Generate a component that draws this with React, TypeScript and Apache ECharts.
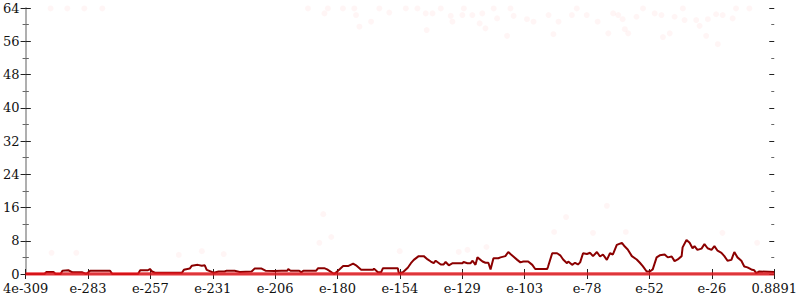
import React, { useEffect, useRef } from "react";
import * as echarts from "echarts";

// x axis: log10 of the value, from 4e-309 to 0.8891
const LOG_MIN = Math.log10(4e-309);
const LOG_MAX = Math.log10(0.8891);
const X_TICK_LABELS = ["4e-309", "e-283", "e-257", "e-231", "e-206", "e-180", "e-154", "e-129", "e-103", "e-78", "e-52", "e-26", "0.8891"];
const Y_MAX = 64;
const Y_STEP = 8;

// main (dark red) series: log10(x) and count
const LOG_X = [
  -308.4, -300.6, -299.8, -296.9, -296.1, -294.0, -293.2, -290.8, -289.1, -285.0, -283.4, -281.8, -273.6, -272.7,
  -262.1, -261.2, -258.0, -257.2, -256.3, -255.1, -244.0, -243.2, -240.8, -239.9, -237.5, -235.8, -234.6, -233.8,
  -230.9, -228.9, -226.4, -225.6, -222.3, -220.2, -215.3, -214.1, -211.2, -209.6, -205.9, -203.0, -200.6, -200.2,
  -199.3, -195.7, -194.8, -194.0, -188.7, -187.9, -185.4, -184.2, -181.3, -179.7, -177.6, -175.6, -173.5, -172.3,
  -170.2, -165.3, -164.9, -163.3, -162.0, -161.2, -155.1, -154.7, -153.0, -151.0, -149.7, -148.5, -146.5, -144.4,
  -142.8, -141.5, -140.3, -139.5, -137.4, -136.2, -135.4, -134.1, -132.5, -128.4, -128.0, -126.4, -125.1, -124.3,
  -123.1, -122.3, -120.2, -119.0, -117.8, -116.9, -115.7, -113.7, -112.8, -110.8, -109.6, -108.7, -107.5, -105.9,
  -104.6, -103.4, -101.4, -99.7, -98.5, -96.4, -93.6, -93.2, -91.5, -89.5, -88.2, -87.0, -85.4, -84.9, -83.3,
  -82.1, -80.9, -80.0, -78.8, -77.2, -75.9, -74.7, -73.1, -71.8, -70.6, -69.0, -67.7, -66.5, -64.9, -62.8, -61.6,
  -60.4, -58.7, -56.7, -55.4, -54.2, -52.6, -51.3, -50.1, -48.5, -47.2, -45.2, -43.9, -42.3, -41.1, -39.8, -38.2,
  -37.8, -36.2, -34.9, -33.7, -32.9, -31.7, -30.0, -28.8, -27.5, -25.9, -24.7, -23.4, -21.8, -20.6, -19.3, -17.7,
  -16.5, -15.2, -13.6, -12.4, -11.1, -9.5, -8.3, -7.5, -6.2, -0.05,
];
const COUNTS = [
  0, 0, 0.5, 0.5, 0, 0, 0.8, 0.9, 0.4, 0.4, 0, 0.8, 0.8, 0,
  0, 0.9, 0.9, 1.2, 0.6, 0.3, 0.3, 1.0, 1.3, 2.0, 2.2, 2.0, 2.1, 1.0,
  0.3, 0.6, 0.6, 0.8, 0.8, 0.5, 0.6, 1.3, 1.3, 0.8, 0.7, 0.8, 0.8, 1.2,
  0.8, 0.8, 0.4, 0.8, 0.8, 1.4, 1.4, 1.1, 0, 0.8, 1.9, 1.9, 2.5, 2.1,
  1.0, 1.0, 1.3, 0.4, 0.4, 1.4, 1.4, 0.2, 0.4, 1.5, 2.6, 3.4, 4.3, 4.3,
  3.5, 3.0, 2.6, 3.2, 2.3, 2.3, 2.9, 2.1, 2.6, 2.6, 2.9, 2.6, 2.6, 3.2,
  2.2, 4.0, 3.0, 2.7, 2.7, 1.1, 3.8, 3.8, 4.0, 4.3, 5.3, 4.8, 4.2, 3.4,
  2.8, 3.0, 3.0, 2.2, 1.2, 1.2, 1.2, 1.8, 5.0, 5.0, 4.5, 3.5, 2.6, 3.0, 2.2,
  2.7, 2.3, 2.8, 5.0, 4.8, 5.1, 4.3, 5.3, 4.2, 4.7, 3.4, 5.0, 4.7, 7.0, 7.5, 6.6,
  5.9, 4.3, 3.5, 2.7, 1.9, 0.6, 0.6, 1.1, 4.0, 4.5, 4.7, 4.0, 4.2, 3.1, 3.5, 4.3,
  6.4, 8.2, 7.5, 6.2, 6.7, 5.8, 6.1, 7.2, 6.2, 5.8, 6.7, 5.6, 5.1, 4.3, 3.2, 3.4,
  5.3, 4.0, 3.2, 1.8, 1.6, 1.1, 0.9, 0.2, 0.6, 0.5,
];

// faint scattered points: log10(x) and value
const DOT_LOG_X = [
  -298.1, -291.2, -284.2, -276.8, -192.1, -185.3, -183.9, -177.7, -173.0, -172.3, -170.9, -166.1, -162.7, -158.6,
  -151.8, -147.0, -143.6, -143.2, -140.8, -137.4, -133.3, -132.6, -128.5, -127.9, -124.4, -121.4, -120.3, -119.0,
  -115.6, -114.2, -110.1, -108.7, -107.4, -101.9, -99.2, -93.0, -91.0, -88.9, -83.4, -81.4, -77.3, -72.8, -68.4,
  -66.4, -64.3, -62.5, -61.6, -60.2, -56.8, -54.1, -49.3, -46.5, -45.9, -43.1, -41.1, -37.7, -37.0, -32.2, -30.8,
  -28.1, -27.4, -24.0, -23.3, -21.3, -17.2, -15.8, -10.3,
  -297.7, -287.5, -245.3, -235.8, -226.8, -185.8, -187.4, -182.5, -154.3, -130.0, -126.4, -118.6, -69.0, -85.8,
  -90.7, -74.7, -61.2, -21.4, -7.1,
];
const DOT_VALUES = [
  63.9, 63.9, 63.9, 63.9, 63.9, 62.7, 63.9, 63.9, 63.9, 62.3, 59.5, 60.7, 63.9, 62.9,
  63.9, 63.9, 62.7, 58.7, 62.7, 63.9, 62.1, 60.7, 62.3, 63.9, 62.3, 60.3, 62.7, 59.1,
  63.9, 61.5, 57.3, 63.9, 62.1, 61.3, 60.7, 62.3, 57.7, 60.7, 62.3, 63.9, 62.3, 60.7, 57.9,
  62.7, 62.3, 61.3, 58.9, 57.9, 61.9, 63.9, 62.7, 62.3, 57.0, 57.9, 61.9, 63.9, 61.1, 61.1, 59.7,
  57.3, 61.3, 62.5, 55.3, 62.3, 61.5, 63.9, 63.9,
  5.1, 5.1, 4.6, 5.5, 4.8, 14.4, 7.5, 8.9, 5.5, 5.3, 5.8, 6.5, 16.4, 13.7,
  10.1, 9.9, 10.1, 9.9, 7.5,
];

const N_X_TICKS = X_TICK_LABELS.length - 1;
const toU = (lx: number) => ((lx - LOG_MIN) / (LOG_MAX - LOG_MIN)) * N_X_TICKS;
const SERIF = "DejaVu Serif";

export default function App() {
  const ref = useRef<HTMLDivElement>(null);
  useEffect(() => {
    if (!ref.current) return;
    const chart = echarts.init(ref.current, undefined, { renderer: "svg" });
    const grey = "#aaaaaa";
    const label = (extra: object) => ({
      fontFamily: SERIF,
      fontSize: 13,
      color: "#111",
      ...extra,
    });
    const yBase = (pos: "left" | "right", inside: boolean, labels: boolean) => ({
      type: "value" as const,
      position: pos,
      min: 0,
      max: Y_MAX,
      interval: Y_STEP,
      axisLine: { show: !inside, lineStyle: { color: grey, width: 1.5 } },
      axisTick: { show: true, inside, length: 5, lineStyle: { color: "#222", width: 1 } },
      minorTick: { show: true, splitNumber: 2, length: 3, lineStyle: { color: "#666", width: 1 } },
      axisLabel: label({ show: labels, margin: 6 }),
      splitLine: { show: false },
      minorSplitLine: { show: false },
    });
    const xBase = (pos: "bottom" | "top", inside: boolean, labels: boolean, ticks: boolean) => ({
      type: "value" as const,
      position: pos,
      min: 0,
      max: N_X_TICKS,
      interval: 1,
      axisLine: { show: !inside, lineStyle: { color: grey, width: 1.5 } },
      axisTick: { show: ticks, inside, length: 5, lineStyle: { color: "#222", width: 1 } },
      axisLabel: label({
        show: labels,
        margin: 8,
        formatter: (v: number) => X_TICK_LABELS[Math.round(v)] ?? "",
      }),
      splitLine: { show: false },
    });
    chart.setOption({
      animation: false,
      textStyle: { fontFamily: SERIF },
      grid: { left: 23, right: 25, top: 8, bottom: 26, containLabel: false },
      xAxis: [
        xBase("bottom", false, true, true),
        xBase("bottom", true, false, true),
        xBase("top", false, false, false),
      ],
      yAxis: [
        yBase("left", false, true),
        yBase("left", true, false),
        yBase("right", false, false),
        yBase("right", true, false),
      ],
      series: [
        {
          type: "scatter",
          data: DOT_LOG_X.map((lx, i) => [toU(lx), DOT_VALUES[i]]),
          symbolSize: 6,
          itemStyle: { color: "rgba(255,0,0,0.05)" },
          z: 1,
        },
        {
          type: "line",
          data: LOG_X.map((lx, i) => [toU(lx), COUNTS[i]]),
          showSymbol: false,
          lineStyle: { color: "#8b0000", width: 2 },
          z: 3,
        },
        {
          type: "line",
          data: LOG_X.map((lx) => [toU(lx), 0]),
          showSymbol: false,
          lineStyle: { color: "rgba(232,24,30,0.8)", width: 3.5 },
          z: 4,
        },
      ],
    });
    return () => chart.dispose();
  }, []);
  return <div ref={ref} style={{ width: 800, height: 300, position: "absolute", left: 0, top: 0 }} />;
}
